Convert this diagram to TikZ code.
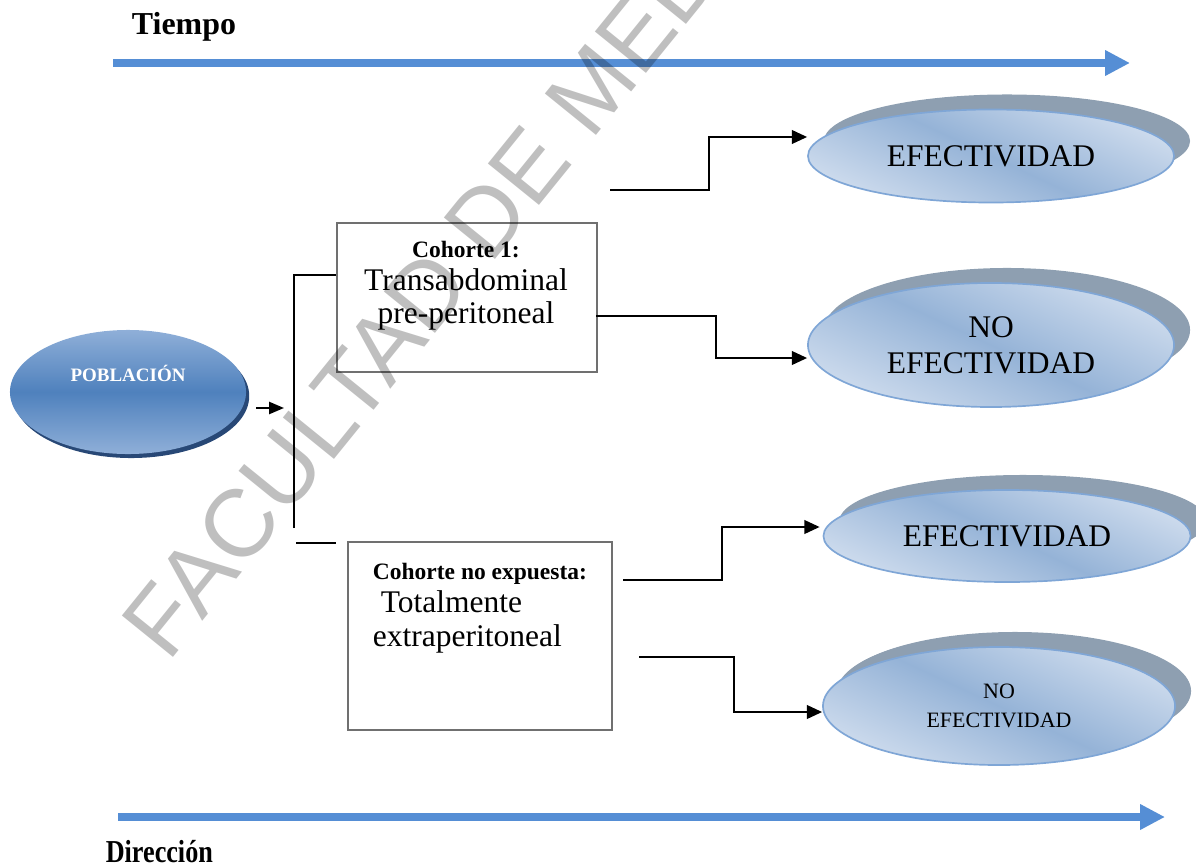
\documentclass[tikz,border=0pt]{standalone}
\usepackage{fontspec}
\setmainfont{Liberation Serif}
\newfontfamily\wmfont{Liberation Sans}
\usetikzlibrary{%
  arrows.meta,%
  shapes.geometric,% wg. ellipse
  shadows,%
  positioning,%
  calc%
}

\definecolor{arrblue}{RGB}{85,142,213}
\definecolor{boxgray}{RGB}{112,112,112}
\definecolor{shadegray}{RGB}{142,159,177}
\definecolor{resborder}{RGB}{127,166,214}
\definecolor{resdark}{RGB}{149,179,215}
\definecolor{reslight}{RGB}{205,219,237}
\definecolor{pobmid}{RGB}{79,129,189}
\definecolor{poblight}{RGB}{143,175,216}
\definecolor{pobshadow}{RGB}{40,72,118}

\newcommand{\cohhead}{\fontsize{16.7}{20}\selectfont\bfseries}

\begin{document}
\begin{tikzpicture}
[x=0.025cm, y=-0.025cm, line width=1.4pt,
axis/.style={draw=arrblue, line width=5pt, -{Triangle[length=6.2mm,width=6mm]}},
axlbl/.style={anchor=base west, inner sep=0pt, font=\fontsize{22.7}{27}\selectfont\bfseries},
flow/.style={draw=black, line width=1.4pt, -{Triangle[length=3.8mm,width=3.4mm]}},
brk/.style={draw=black, line width=1.4pt},
pobell/.style={ellipse, inner sep=0pt, minimum width=5.9cm, minimum height=3.1cm,
  top color=poblight, bottom color=poblight, middle color=pobmid,
  drop shadow={shadow xshift=0.08cm, shadow yshift=-0.1cm, fill=pobshadow, opacity=1}},
pobtxt/.style={inner sep=0pt, text=white, font=\fontsize{13.5}{16}\selectfont\bfseries},
cohbox/.style={rectangle, draw=boxgray, line width=1.5pt, inner sep=0pt},
cohtxt/.style={inner sep=0pt, font=\fontsize{22.4}{23.5}\selectfont},
resell/.style={ellipse, draw=resborder, line width=1.2pt, inner sep=0pt, align=center,
  top color=reslight, bottom color=reslight, middle color=resdark, shading angle=-25,
  drop shadow={shadow xshift=0.4cm, shadow yshift=0.375cm, fill=shadegray, opacity=1},
  font=\fontsize{22.4}{25.5}\selectfont},
wmark/.style={anchor=base west, rotate=51, inner sep=0pt,
  font=\wmfont\fontsize{68}{72}\selectfont, text=black, text opacity=0.25}]

\useasboundingbox (0,0) rectangle (1196,867);

\node[axlbl] (tiempo) at (131,35) {Tiempo};
\coordinate (t0) at (113,63);
\coordinate (t1) at (1130,63);
\draw[axis] (t0) -- (t1);

\node[pobell] (pob) at (128,392) {};
\node[pobtxt] (pobt) at (128,373) {POBLACIÓN};

\node[cohbox, minimum width=6.5cm, minimum height=3.725cm] (c1) at (467,297.5) {};
\node[cohtxt, align=center] (c1t) at (466,286) {{\cohhead Cohorte 1:}\\Transabdominal\\pre-peritoneal};

\node[cohbox, minimum width=6.6cm, minimum height=4.7cm] (c0) at (480,636) {};
\node[cohtxt, align=left, anchor=west, font=\fontsize{22.4}{24}\selectfont] (c0t) at (372,608) {{\cohhead Cohorte no expuesta:}\\\hspace*{0.25em}Totalmente\\extraperitoneal};

\node[resell, minimum width=9.15cm, minimum height=2.325cm] (e1) at (991,156) {EFECTIVIDAD};
\node[resell, minimum width=9.15cm, minimum height=3.1cm] (e2) at (991,345) {NO\\EFECTIVIDAD};
\node[resell, minimum width=9.175cm, minimum height=2.3cm] (e3) at (1007,536) {EFECTIVIDAD};
\node[resell, minimum width=8.8cm, minimum height=2.95cm, font=\fontsize{15.6}{21}\selectfont,
  drop shadow={shadow xshift=0.35cm, shadow yshift=0.35cm, fill=shadegray, opacity=1}] (e4) at (999,706) {NO\\EFECTIVIDAD};

\coordinate (pin) at (284,408);
\draw[flow, -{Triangle[length=3.7mm,width=3mm]}] ([shift={(0.225cm,-0.4cm)}]pob.east) -- (pin);

\coordinate (b0) at (294,275);
\coordinate (b1) at (294,528);
\coordinate (b2) at (296,543);
\coordinate (b3) at (336,543);
\draw[brk] (b1) -- (b0) -- (b0 -| c1.west);
\draw[brk] (b2) -- (b3);

\coordinate (s1) at (610,190);
\coordinate (s2) at (596,316);
\coordinate (s3) at (623,580);
\coordinate (s4) at (639,657);
\draw[flow] (s1) -- ++(99,0) |- ([yshift=0.475cm]e1.west);
\draw[flow] (s2) -- ++(120,0) |- ([yshift=-0.325cm]e2.west);
\draw[flow] (s3) -- ++(99,0) |- ([shift={(-0.075cm,0.225cm)}]e3.west);
\draw[flow] (s4) -- ++(95,0) |- ([yshift=-0.15cm]e4.west);

\coordinate (d0) at (118,817);
\coordinate (d1) at (1165,817);
\draw[axis] (d0) -- (d1);
\node[axlbl, xscale=0.82] (dir) at (105,862) {Dirección};

\begin{scope}
\clip (0,0) rectangle (1196,867);
\node[wmark] (wm) at (168,664) {FACULTAD DE MEDICINA};
\end{scope}

\end{tikzpicture}
\end{document}
